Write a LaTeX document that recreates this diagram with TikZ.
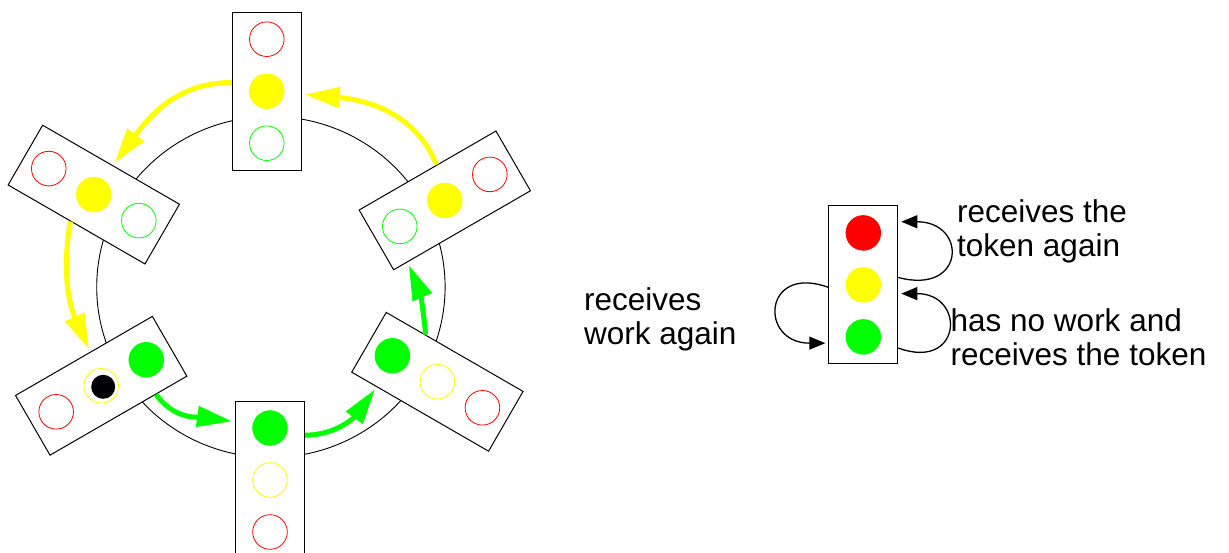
\documentclass[tikz,border=0pt]{standalone}
\usepackage{fontspec}
\setmainfont{Liberation Sans}
\usetikzlibrary{arrows.meta}

\definecolor{amber}{RGB}{255,255,0}
\definecolor{lime}{RGB}{0,255,0}

\tikzset{
  housing/.style={draw, fill=white, line width=1pt, inner sep=0pt,
    minimum width=69pt, minimum height=158pt},
  lamp/.style={circle, inner sep=0pt, minimum size=34.6pt, line width=0.8pt},
  handoff/.style={line width=5pt, shorten >=3pt, -{Triangle[length=35pt,width=20pt]}},
  selfloop/.style={line width=1.3pt, shorten >=3pt, -{Triangle[length=16pt,width=13pt]}},
  remark/.style={anchor=base west, align=left, inner sep=0pt,
    font=\fontsize{31.5}{34}\selectfont}
}

\begin{document}
\begin{tikzpicture}[x=1pt, y=-1pt]
\useasboundingbox (0,0) rectangle (1229,553);
\coordinate (hub) at (270.9,287);
\draw[line width=0.9pt] (hub) ellipse [x radius=174.2pt, y radius=170.5pt];
% ring of lights, red lamp always outside
\foreach \n/\x/\y/\r/\cr/\cy/\cg in {top/266.8/91.2/0/white/amber/white,
    ul/93.8/194.6/60/white/amber/white, ur/444.8/200.4/-60/white/amber/white,
    ll/101.2/385.8/120/white/white/lime, bot/270/480/180/white/white/lime,
    lr/437.4/381.8/240/white/white/lime}{
  \begin{scope}[shift={(\x,\y)}, rotate=\r]
    \node[housing, transform shape] (\n) at (0,0) {};
    \node[lamp, draw=red, fill=\cr] (\n-r) at (0,-52) {};
    \node[lamp, draw=amber, fill=\cy] (\n-y) at (0,0) {};
    \node[lamp, draw=lime, fill=\cg] (\n-g) at (0,52) {};
  \end{scope}
}
\node[circle, fill=black, inner sep=0pt, minimum size=24pt] (ll-dot) at ([shift={(2pt,-1pt)}]ll-y) {};
% token passing
\draw[handoff, amber] (ur.163) to[out=112, in=-5] (top.-5);
\draw[handoff, amber] (top.166) to[out=180, in=53] (ul.-3);
\draw[handoff, amber] (ul.169) to[out=260, in=114] (ll.-12);
\draw[handoff, lime] (ll.231) to[out=-55, in=172] (bot.-59);
\draw[handoff, lime] (bot.232) to[out=0, in=234] (lr.-55);
\draw[handoff, lime] (lr.224) to[out=95, in=-67] (ur.-61);
% single light with its transitions
\node[housing] (lg) at (863.3,284.9) {};
\node[lamp, draw=red, fill=red] (lg-r) at ([yshift=52pt]lg.center) {};
\node[lamp, draw=amber, fill=amber] (lg-y) at (lg.center) {};
\node[lamp, draw=lime, fill=lime] (lg-g) at ([yshift=-52pt]lg.center) {};
\draw[selfloop] (lg.12) to[out=-15, in=0, looseness=3.2] (lg.61);
\draw[selfloop] (lg.-61) to[out=-20, in=0, looseness=3.2] (lg.-14);
\draw[selfloop] (lg.184) to[out=160, in=180, looseness=3.2] (lg.239);
\node[remark] (again) at (957,256.7) {receives the\\token again};
\node[remark] (idle) at (950.5,366) {has no work and\\receives the token};
\node[remark] (work) at (584,344.3) {receives\\work again};
\end{tikzpicture}
\end{document}
